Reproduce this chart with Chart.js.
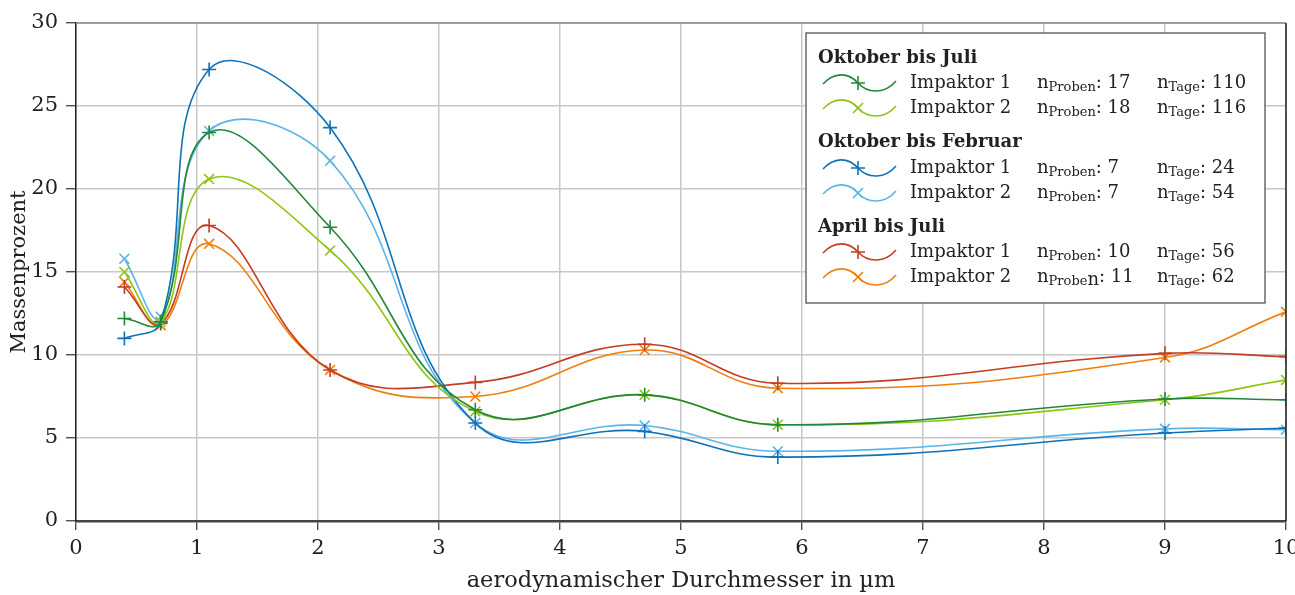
<!DOCTYPE html>
<html>
<head>
<meta charset="utf-8">
<script src="https://cdn.jsdelivr.net/npm/chart.js@4.4.1/dist/chart.umd.min.js"></script>
<style>
	html, body { margin: 0; padding: 0; background: #fff; }
	#wrap { width: 1295px; height: 595px; position: relative; }
</style>
</head>
<body>
<div id="wrap"><canvas id="massChart" width="1295" height="595"></canvas></div>
<script>
// Werte
var xValues = [0.4, 0.7, 1.1, 2.1, 3.3, 4.7, 5.8, 9.0, 10.0];
var octJulImp1 = [12.2, 12.0, 23.4, 17.7, 6.7, 7.6, 5.8, 7.35, 7.3];
var octJulImp2 = [15.0, 12.0, 20.6, 16.3, 6.6, 7.6, 5.8, 7.3, 8.5];
var octFebImp1 = [11.0, 12.0, 27.2, 23.7, 5.9, 5.4, 3.85, 5.3, 5.6];
var octFebImp2 = [15.8, 12.3, 23.5, 21.7, 5.9, 5.75, 4.2, 5.55, 5.5];
var aprJulImp1 = [14.1, 11.9, 17.8, 9.1, 8.35, 10.65, 8.3, 10.1, 9.9];
var aprJulImp2 = [14.4, 11.8, 16.7, 9.1, 7.5, 10.3, 8.0, 9.85, 12.6];

var periodNames = ['Oktober bis Juli', 'Oktober bis Februar', 'April bis Juli'];
var seriesNames = ['Impaktor 1', 'Impaktor 2', 'Impaktor 1', 'Impaktor 2', 'Impaktor 1', 'Impaktor 2'];
var nProben = [17, 18, 7, 7, 10, 11];
var nTage = [110, 116, 24, 54, 56, 62];

var colors = ['#23873a', '#8fc412', '#0d72b9', '#5bb5e8', '#c33d22', '#f07d0c'];
var markers = ['cross', 'crossRot', 'cross', 'crossRot', 'cross', 'crossRot'];
var allSeries = [octJulImp1, octJulImp2, octFebImp1, octFebImp2, aprJulImp1, aprJulImp2];

var FONT = 'DejaVu Serif';

function toPoints(values) {
	var pts = [];
	for (var i = 0; i < values.length; i++) {
		pts.push({ x: xValues[i], y: values[i] });
	}
	return pts;
}

var datasets = [];
for (var i = 0; i < allSeries.length; i++) {
	datasets.push({
		label: periodNames[Math.floor(i / 2)] + ' ' + seriesNames[i],
		data: toPoints(allSeries[i]),
		borderColor: colors[i],
		backgroundColor: colors[i],
		borderWidth: 1.6,
		pointStyle: markers[i],
		pointRadius: 7,
		pointBorderWidth: 1.6,
		tension: 0.42,
		fill: false
	});
}

// Rahmen oben/rechts
var frame = {
	id: 'frame',
	afterDatasetsDraw: function(chart) {
		var a = chart.chartArea;
		var ctx = chart.ctx;
		ctx.save();
		ctx.lineWidth = 1.5;
		ctx.strokeStyle = '#8a8a8a';
		ctx.beginPath();
		ctx.moveTo(a.left, a.top);
		ctx.lineTo(a.right, a.top);
		ctx.stroke();
		ctx.strokeStyle = '#222';
		ctx.beginPath();
		ctx.moveTo(a.right, a.top);
		ctx.lineTo(a.right, a.bottom);
		ctx.stroke();
		ctx.restore();
	}
};

// Legende mit Gruppen und Indizes
var groupLegend = {
	id: 'groupLegend',
	afterDraw: function(chart) {
		var ctx = chart.ctx;
		var bx = 806, by = 33, bw = 459, bh = 270;
		ctx.save();
		ctx.fillStyle = '#fff';
		ctx.fillRect(bx, by, bw, bh);
		ctx.lineWidth = 1.3;
		ctx.strokeStyle = '#555';
		ctx.strokeRect(bx, by, bw, bh);

		var headY = [58, 142, 227];
		var rowY = [83, 108, 168, 193, 252, 277];
		ctx.textBaseline = 'middle';
		ctx.fillStyle = '#222';
		for (var g = 0; g < periodNames.length; g++) {
			ctx.font = 'bold 18px "' + FONT + '"';
			ctx.fillText(periodNames[g], 818, headY[g]);
		}
		for (var r = 0; r < rowY.length; r++) {
			var c = rowY[r];
			ctx.strokeStyle = colors[r];
			ctx.lineWidth = 1.6;
			ctx.beginPath();
			ctx.moveTo(823, c + 1);
			ctx.bezierCurveTo(834, c - 11, 848, c - 11, 858, c);
			ctx.bezierCurveTo(868, c + 11, 885, c + 11, 896, c - 2);
			ctx.stroke();
			ctx.beginPath();
			if (markers[r] === 'cross') {
				ctx.moveTo(851, c); ctx.lineTo(865, c);
				ctx.moveTo(858, c - 7); ctx.lineTo(858, c + 7);
			} else {
				ctx.moveTo(853, c - 5); ctx.lineTo(863, c + 5);
				ctx.moveTo(853, c + 5); ctx.lineTo(863, c - 5);
			}
			ctx.stroke();

			ctx.fillStyle = '#222';
			ctx.font = '18px "' + FONT + '"';
			ctx.fillText(seriesNames[r], 910, c);

			var x = 1037;
			ctx.fillText('n', x, c);
			x += ctx.measureText('n').width;
			ctx.font = '13px "' + FONT + '"';
			if (r === 5) {
				ctx.fillText('Probe', x, c + 5);
				x += ctx.measureText('Probe').width;
				ctx.font = '18px "' + FONT + '"';
				ctx.fillText('n', x, c + 3);
				x += ctx.measureText('n').width;
			} else {
				ctx.fillText('Proben', x, c + 5);
				x += ctx.measureText('Proben').width;
				ctx.font = '18px "' + FONT + '"';
			}
			ctx.fillText(': ' + nProben[r], x, c);

			x = 1157;
			ctx.fillText('n', x, c);
			x += ctx.measureText('n').width;
			ctx.font = '13px "' + FONT + '"';
			ctx.fillText('Tage', x, c + 5);
			x += ctx.measureText('Tage').width;
			ctx.font = '18px "' + FONT + '"';
			ctx.fillText(': ' + nTage[r], x, c);
		}
		ctx.restore();
	}
};

var ctx = document.getElementById('massChart').getContext('2d');
var massChart = new Chart(ctx, {
	type: 'line',
	data: { datasets: datasets },
	options: {
		responsive: false,
		animation: false,
		layout: { padding: { top: 23, right: 9, left: 0, bottom: 0 } },
		plugins: {
			legend: { display: false },
			tooltip: { enabled: false }
		},
		scales: {
			x: {
				type: 'linear',
				min: 0,
				max: 10,
				afterFit: function(scale) {
					scale.height = 74;
					scale.paddingLeft = 0;
					scale.paddingRight = 0;
				},
				ticks: {
					stepSize: 1,
					color: '#222',
					padding: 6,
					maxRotation: 0,
					font: { family: FONT, size: 21 }
				},
				grid: {
					color: '#c8c8c8',
					lineWidth: 1.5,
					tickLength: 9,
					tickColor: '#333',
					tickWidth: 1.2
				},
				border: { color: '#444', width: 2.5 },
				title: {
					display: true,
					text: 'aerodynamischer Durchmesser in µm',
					color: '#222',
					padding: { top: 0, bottom: 0 },
					font: { family: FONT, size: 22.5 }
				}
			},
			y: {
				min: 0,
				max: 30,
				afterFit: function(scale) {
					scale.width = 76;
					scale.paddingTop = 0;
					scale.paddingBottom = 0;
				},
				ticks: {
					stepSize: 5,
					color: '#222',
					padding: 8,
					font: { family: FONT, size: 21 }
				},
				grid: {
					color: '#c8c8c8',
					lineWidth: 1.5,
					tickLength: 10,
					tickColor: '#333',
					tickWidth: 1.2
				},
				border: { color: '#222', width: 1.5 },
				title: {
					display: true,
					text: 'Massenprozent',
					color: '#222',
					padding: { top: 7, bottom: 0 },
					font: { family: FONT, size: 21 }
				}
			}
		}
	},
	plugins: [frame, groupLegend]
});
</script>
</body>
</html>
